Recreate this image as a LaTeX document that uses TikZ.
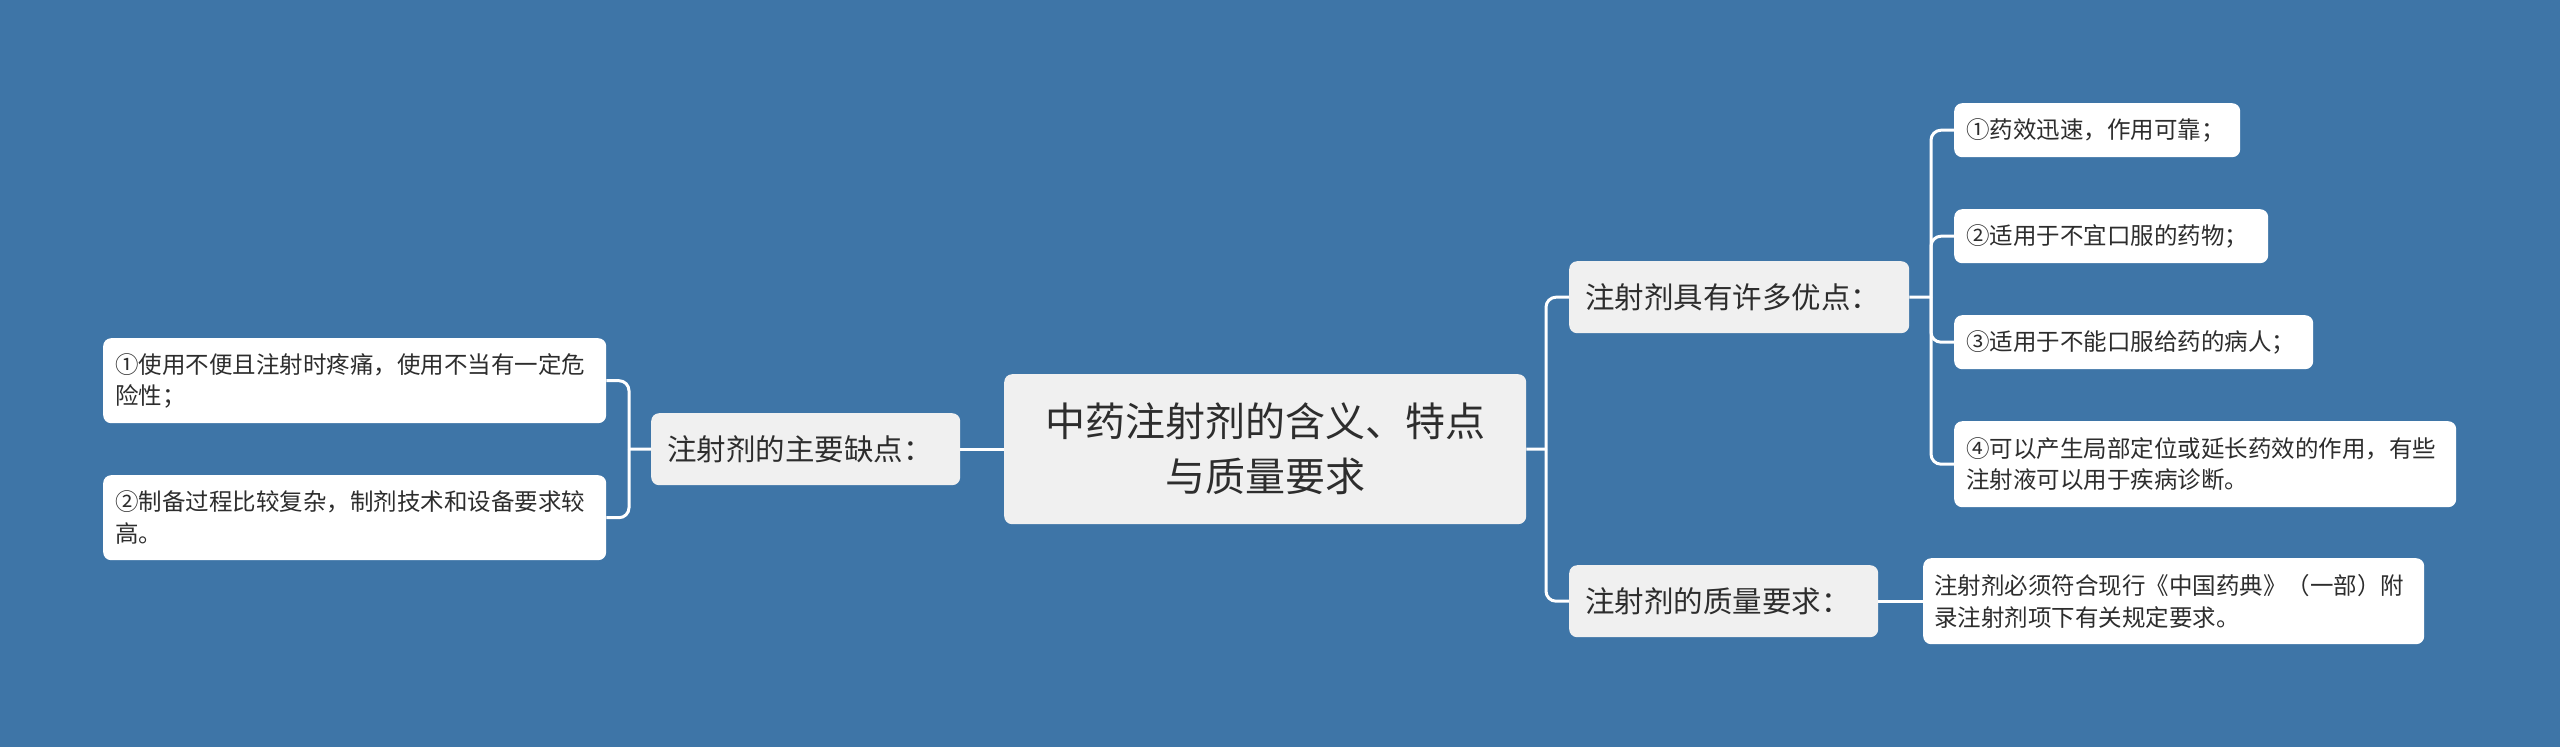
\documentclass[tikz,border=0pt]{standalone}
\usepackage{fontspec}
\setmainfont{Noto Sans CJK SC}
\definecolor{bg}{RGB}{62,117,167}
\definecolor{boxgray}{RGB}{240,240,240}
\definecolor{txt}{RGB}{45,45,45}
\begin{document}
\begin{tikzpicture}[x=1pt,y=-1pt,
  base/.style={rounded corners=8pt, inner ysep=0pt, text=txt, anchor=north west},
  rootbox/.style={base, fill=boxgray, align=center, inner xsep=0pt,
    font=\fontsize{40}{55}\selectfont},
  branch/.style={base, fill=boxgray, align=left, inner xsep=16pt,
    font=\fontsize{29.5}{34}\selectfont},
  leaf/.style={base, fill=white, align=left, inner xsep=12pt,
    font=\fontsize{23.5}{31.5}\selectfont},
  conn/.style={draw=white, line width=3pt, rounded corners=10pt},
]
\useasboundingbox (0,0) rectangle (2560,747);
\fill[bg] (0,0) rectangle (2560,747);

% root
\node[rootbox, minimum width=522pt, minimum height=150pt, text width=522pt] (root) at (1004,374)
  {中药注射剂的含义、特点\\与质量要求};

% left
\node[branch, minimum height=72pt, text width=277pt] (bL) at (651,413) {注射剂的主要缺点：};
\node[leaf, minimum height=85pt, text width=479pt] (L1) at (103,338)
  {①使用不便且注射时疼痛，使用不当有一定危\\险性；};
\node[leaf, minimum height=85pt, text width=479pt] (L2) at (103,475)
  {②制备过程比较复杂，制剂技术和设备要求较\\高。};

% right branches
\node[branch, minimum height=72pt, text width=308pt] (bR1) at (1569,261) {注射剂具有许多优点：};
\node[branch, minimum height=72pt, text width=277pt] (bR2) at (1569,565) {注射剂的质量要求：};

\node[leaf, minimum height=54pt, text width=262pt] (R1) at (1954,103) {①药效迅速，作用可靠；};
\node[leaf, minimum height=54pt, text width=290pt] (R2) at (1954,209) {②适用于不宜口服的药物；};
\node[leaf, minimum height=54pt, text width=335pt] (R3) at (1954,315) {③适用于不能口服给药的病人；};
\node[leaf, minimum height=86pt, text width=478pt] (R4) at (1954,421)
  {④可以产生局部定位或延长药效的作用，有些\\注射液可以用于疾病诊断。};
\node[leaf, minimum height=86pt, text width=479pt, inner xsep=11pt] (Q) at (1923,558)
  {注射剂必须符合现行《中国药典》（一部）附\\录注射剂项下有关规定要求。};

% junctions
\coordinate (jL) at (629,449);
\coordinate (jR) at (1546,449);
\coordinate (jR1) at (1931,297);

% connectors
\draw[conn] (root.west) -- (bL.east);
\draw[conn] (bL.west) -- (jL);
\draw[conn] (jL) |- (L1.east);
\draw[conn] (jL) |- (L2.east);

\draw[conn] (root.east) -- (jR);
\draw[conn] (jR) |- (bR1.west);
\draw[conn] (jR) |- (bR2.west);

\draw[conn] (bR1.east) -- (jR1);
\draw[conn] (jR1) |- (R1.west);
\draw[conn] (jR1) |- (R2.west);
\draw[conn] (jR1) |- (R3.west);
\draw[conn] (jR1) |- (R4.west);

\draw[conn] (bR2.east) -- (Q.west);
\end{tikzpicture}
\end{document}
